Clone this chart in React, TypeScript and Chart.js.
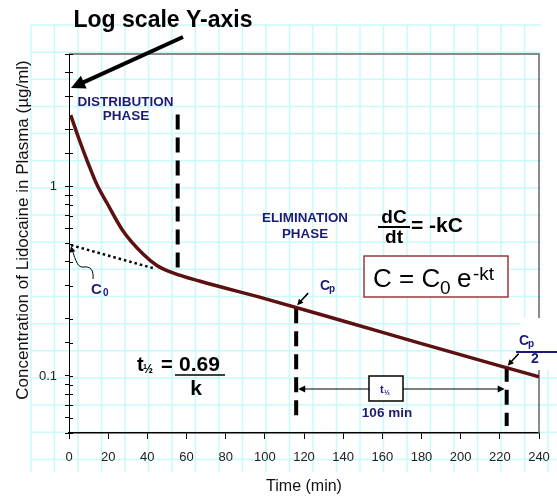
import React, { useEffect, useRef } from 'react';
import { Chart, registerables } from 'chart.js';

Chart.register(...registerables);

// ---- data ----
const timeMin = [0.87, 5.1, 9.7, 14.3, 19.4, 27.6, 37.8, 44.9, 53.1, 67, 100, 140, 180, 220, 240];
const concentration = [2.38, 1.78, 1.33, 1.02, 0.818, 0.582, 0.44, 0.383, 0.35, 0.316, 0.256, 0.195, 0.148, 0.113, 0.099];
const extrapTime = [1, 44];
const extrapConc = [0.49, 0.368];
const distEndTime = [55.5, 55.5];
const distEndConc = [2.4, 0.345];
const cpTime = [116, 116];
const cpConc = [0.228, 0.059];
const halfTime = [223.5, 223.5];
const halfConc = [0.112, 0.0545];
const xTickStep = 20;
const xMin = 0;
const xMax = 240;
const yMin = 0.05;
const yMax = 5;
const yLabelled = [0.1, 1];
const xTitle = 'Time (min)';
const yTitle = 'Concentration of Lidocaine in Plasma (µg/ml)';

const FONT = '"Liberation Sans", Arial, Helvetica, sans-serif';
const NAVY = '#1c1c78';

const pts = (xs: number[], ys: number[]) => xs.map((x, i) => ({ x, y: ys[i] }));

function arrowHead(ctx: CanvasRenderingContext2D, fx: number, fy: number, tx: number, ty: number, len: number, half: number) {
  const dx = tx - fx, dy = ty - fy;
  const L = Math.hypot(dx, dy);
  const ux = dx / L, uy = dy / L;
  const bx = tx - ux * len, by = ty - uy * len;
  ctx.beginPath();
  ctx.moveTo(tx, ty);
  ctx.lineTo(bx - uy * half, by + ux * half);
  ctx.lineTo(bx + uy * half, by - ux * half);
  ctx.closePath();
  ctx.fill();
}

function arrow(ctx: CanvasRenderingContext2D, fx: number, fy: number, tx: number, ty: number, w: number, len: number, half: number, color: string) {
  const dx = tx - fx, dy = ty - fy;
  const L = Math.hypot(dx, dy);
  const ux = dx / L, uy = dy / L;
  ctx.strokeStyle = color;
  ctx.fillStyle = color;
  ctx.lineWidth = w;
  ctx.beginPath();
  ctx.moveTo(fx, fy);
  ctx.lineTo(tx - ux * len * 0.8, ty - uy * len * 0.8);
  ctx.stroke();
  arrowHead(ctx, fx, fy, tx, ty, len, half);
}

function text(ctx: CanvasRenderingContext2D, s: string, x: number, y: number, size: number, bold: boolean, color: string, align: CanvasTextAlign = 'left') {
  ctx.font = `${bold ? 'bold ' : ''}${size}px ${FONT}`;
  ctx.fillStyle = color;
  ctx.textAlign = align;
  ctx.textBaseline = 'alphabetic';
  ctx.fillText(s, x, y);
}

const zeroPad = (s: any) => {
  s.paddingLeft = 0;
  s.paddingRight = 0;
  s.paddingTop = 0;
  s.paddingBottom = 0;
};

const decorPlugin = {
  id: 'decor',
  beforeDraw(chart: any) {
    const ctx: CanvasRenderingContext2D = chart.ctx;
    ctx.save();
    ctx.fillStyle = '#ffffff';
    ctx.fillRect(0, 0, chart.width, chart.height);
    ctx.strokeStyle = '#c8fafa';
    ctx.lineWidth = 1.5;
    for (let i = 0; i <= 22; i++) {
      const x = 31 + i * 23.5;
      ctx.beginPath();
      ctx.moveTo(x, 25);
      ctx.lineTo(x, 472);
      ctx.stroke();
    }
    for (let j = 0; j <= 16; j++) {
      const y = 25 + j * 27.15;
      ctx.beginPath();
      ctx.moveTo(31, y);
      ctx.lineTo(557, y);
      ctx.stroke();
    }
    ctx.fillStyle = '#ffffff';
    ctx.fillRect(541, 18, 16, 300);
    ctx.restore();
  },
  beforeDatasetsDraw(chart: any) {
    const ctx: CanvasRenderingContext2D = chart.ctx;
    const a = chart.chartArea;
    ctx.save();
    ctx.strokeStyle = '#666666';
    ctx.lineWidth = 1.5;
    ctx.beginPath();
    ctx.moveTo(a.left, a.top);
    ctx.lineTo(a.right, a.top);
    ctx.lineTo(a.right, a.bottom);
    ctx.stroke();
    const ys = chart.scales.y;
    ctx.strokeStyle = '#000';
    ctx.lineWidth = 1;
    ys.ticks.forEach((t: any) => {
      const py = Math.round(ys.getPixelForValue(t.value)) + 0.5;
      ctx.beginPath();
      ctx.moveTo(a.left, py);
      ctx.lineTo(a.left + 4, py);
      ctx.stroke();
    });
    ctx.fillStyle = '#ffffff';
    ctx.fillRect(520, 318, 37, 52);
    ctx.restore();
  },
  afterDraw(chart: any) {
    const ctx: CanvasRenderingContext2D = chart.ctx;
    const xs = chart.scales.x;
    const ys = chart.scales.y;
    ctx.save();

    // y axis title
    ctx.save();
    ctx.translate(23, 230);
    ctx.rotate(-Math.PI / 2);
    ctx.font = `17px ${FONT}`;
    ctx.fillStyle = '#111';
    ctx.textAlign = 'center';
    ctx.textBaseline = 'middle';
    ctx.fillText(yTitle, 0, 0);
    ctx.restore();

    // title and arrow
    text(ctx, 'Log scale Y-axis', 163, 27, 23, true, '#000', 'center');
    arrow(ctx, 183, 37, 71, 88, 4, 14, 7, '#000');

    // phase labels
    text(ctx, 'DISTRIBUTION', 125.5, 106, 13.5, true, NAVY, 'center');
    text(ctx, 'PHASE', 126, 120, 13.5, true, NAVY, 'center');
    text(ctx, 'ELIMINATION', 305, 222, 13.4, true, NAVY, 'center');
    text(ctx, 'PHASE', 305, 238, 13.4, true, NAVY, 'center');

    // dC/dt = -kC
    text(ctx, 'dC', 394, 223, 19, true, '#000', 'center');
    ctx.strokeStyle = '#000';
    ctx.lineWidth = 2;
    ctx.beginPath();
    ctx.moveTo(378, 227);
    ctx.lineTo(410, 227);
    ctx.stroke();
    text(ctx, 'dt', 394, 243, 19, true, '#000', 'center');
    text(ctx, '= -kC', 411, 232, 21, true, '#000');

    // boxed equation
    ctx.fillStyle = '#ffffff';
    ctx.fillRect(364, 256, 144, 41);
    ctx.strokeStyle = '#9b3a3a';
    ctx.lineWidth = 1.5;
    ctx.strokeRect(364, 256, 144, 41);
    text(ctx, 'C = C', 373, 287, 26, false, '#000');
    text(ctx, '0', 440, 294, 19, false, '#000');
    text(ctx, 'e', 457, 287, 26, false, '#000');
    text(ctx, '-kt', 473, 280, 19, false, '#000');

    // t1/2 = 0.69 / k
    text(ctx, 't', 137, 371, 20, true, '#000');
    text(ctx, '½', 143, 373, 12, true, '#000');
    text(ctx, '=', 161, 371, 20, true, '#000');
    text(ctx, '0.69', 179, 371, 21, true, '#000');
    ctx.strokeStyle = '#000';
    ctx.lineWidth = 1.5;
    ctx.beginPath();
    ctx.moveTo(175, 375);
    ctx.lineTo(225, 375);
    ctx.stroke();
    text(ctx, 'k', 196, 395, 21, true, '#000', 'center');

    // C0 label with curly pointer
    const c0y = ys.getPixelForValue(extrapConc[0]);
    const c0x = xs.getPixelForValue(0);
    ctx.strokeStyle = '#000';
    ctx.lineWidth = 1;
    ctx.beginPath();
    ctx.moveTo(93, 279);
    ctx.bezierCurveTo(94, 270, 90, 266, 84, 267);
    ctx.bezierCurveTo(78, 268, 76, 262, c0x + 3, c0y + 4);
    ctx.stroke();
    ctx.fillStyle = '#000';
    arrowHead(ctx, c0x + 4, c0y + 9, c0x + 2, c0y + 1, 6, 3);
    text(ctx, 'C', 91, 294, 15, true, NAVY);
    text(ctx, '0', 103, 296, 10, true, NAVY);

    // Cp label
    const cpx = xs.getPixelForValue(cpTime[0]);
    const cpy = ys.getPixelForValue(cpConc[0]);
    text(ctx, 'C', 320, 290, 14, true, NAVY);
    text(ctx, 'p', 329, 292, 10, true, NAVY);
    arrow(ctx, cpx + 12, cpy - 15, cpx + 1, cpy - 3, 1.5, 6, 3, '#000');

    // Cp/2 label
    const hx = xs.getPixelForValue(halfTime[0]);
    const hy = ys.getPixelForValue(halfConc[0]);
    text(ctx, 'C', 519, 345, 14, true, NAVY);
    text(ctx, 'p', 528, 347, 10, true, NAVY);
    ctx.strokeStyle = NAVY;
    ctx.lineWidth = 2;
    ctx.beginPath();
    ctx.moveTo(516, 352);
    ctx.lineTo(557, 352);
    ctx.stroke();
    text(ctx, '2', 535, 363, 14, true, NAVY, 'center');
    arrow(ctx, hx + 12, hy - 13, hx + 1, hy - 1, 1.5, 6, 3, '#000');

    // half-life double arrow
    const ay = 389;
    ctx.strokeStyle = '#000';
    ctx.fillStyle = '#000';
    ctx.lineWidth = 1.2;
    ctx.beginPath();
    ctx.moveTo(cpx + 6, ay);
    ctx.lineTo(hx - 6, ay);
    ctx.stroke();
    arrowHead(ctx, cpx + 20, ay, cpx + 2, ay, 7, 3.5);
    arrowHead(ctx, hx - 20, ay, hx - 2, ay, 7, 3.5);
    ctx.fillStyle = '#ffffff';
    ctx.fillRect(369, 376, 34, 25);
    ctx.strokeStyle = '#000';
    ctx.lineWidth = 1.5;
    ctx.strokeRect(369, 376, 34, 25);
    text(ctx, 't', 380, 393, 11, true, NAVY);
    text(ctx, '½', 384, 395, 7, true, NAVY);
    text(ctx, '106 min', 387, 417, 13.5, true, NAVY, 'center');

    ctx.restore();
  },
};

export default function App() {
  const ref = useRef<HTMLCanvasElement | null>(null);

  useEffect(() => {
    if (!ref.current) return;
    const chart = new Chart(ref.current, {
      type: 'line',
      data: {
        datasets: [
          {
            data: pts(timeMin, concentration),
            borderColor: '#5c1010',
            borderWidth: 3.5,
            pointRadius: 0,
            cubicInterpolationMode: 'monotone',
            fill: false,
          },
          {
            data: pts(extrapTime, extrapConc),
            borderColor: '#000',
            borderWidth: 2.5,
            borderDash: [2.5, 3],
            pointRadius: 0,
            fill: false,
          },
          {
            data: pts(distEndTime, distEndConc),
            borderColor: '#000',
            borderWidth: 4,
            borderDash: [15, 8],
            pointRadius: 0,
            fill: false,
          },
          {
            data: pts(cpTime, cpConc),
            borderColor: '#000',
            borderWidth: 4,
            borderDash: [15, 8],
            pointRadius: 0,
            fill: false,
          },
          {
            data: pts(halfTime, halfConc),
            borderColor: '#000',
            borderWidth: 4,
            borderDash: [15, 8],
            pointRadius: 0,
            fill: false,
          },
        ],
      },
      options: {
        animation: false,
        responsive: true,
        maintainAspectRatio: false,
        layout: { padding: { top: 54, right: 18, left: 0, bottom: 0 } },
        plugins: {
          legend: { display: false },
          tooltip: { enabled: false },
        },
        scales: {
          x: {
            type: 'linear',
            min: xMin,
            max: xMax,
            afterFit: (s: any) => { s.height = 65; zeroPad(s); },
            ticks: {
              stepSize: xTickStep,
              color: '#222',
              font: { family: FONT, size: 13 },
              padding: 11,
              maxRotation: 0,
            },
            grid: { drawOnChartArea: false, drawTicks: true, tickLength: 6, color: '#000' },
            border: { display: true, color: '#000', width: 1.5 },
            title: {
              display: true,
              text: xTitle,
              color: '#111',
              font: { family: FONT, size: 16 },
              padding: { top: 0, bottom: 2 },
            },
          },
          y: {
            type: 'logarithmic',
            min: yMin,
            max: yMax,
            afterFit: (s: any) => { s.width = 69; zeroPad(s); },
            ticks: {
              autoSkip: false,
              color: '#222',
              font: { family: FONT, size: 13 },
              padding: 8,
              callback: (v: any) => {
                const n = Number(v);
                const hit = yLabelled.find((l) => Math.abs(n - l) < 1e-9);
                return hit === undefined ? '' : String(hit);
              },
            },
            grid: { drawOnChartArea: false, drawTicks: true, tickLength: 4, color: '#000' },
            border: { display: true, color: '#000', width: 1 },
            title: { display: false },
          },
        },
      },
      plugins: [decorPlugin],
    });
    return () => chart.destroy();
  }, []);

  return (
    <div style={{ position: 'absolute', left: 0, top: 0, width: 557, height: 498 }}>
      <canvas ref={ref} />
    </div>
  );
}
